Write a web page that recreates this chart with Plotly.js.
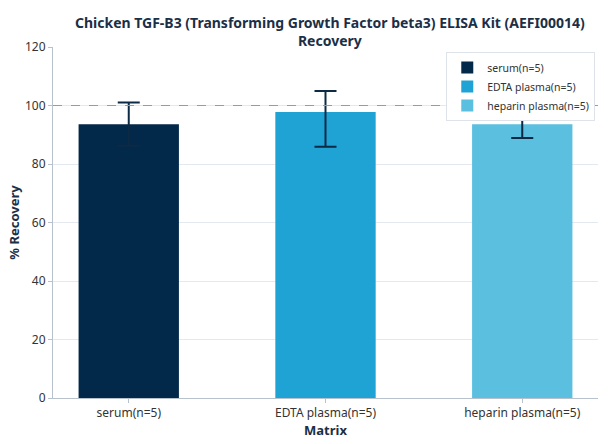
<!DOCTYPE html>
<html>
<head>
<meta charset="utf-8">
<script src="https://cdn.plot.ly/plotly-3.0.1.min.js"></script>
<style>html,body{margin:0;padding:0;background:#fff;}#chart{width:608px;height:444px;}</style>
</head>
<body>
<div id="chart"></div>
<script>
const categories = ["serum(n=5)", "EDTA plasma(n=5)", "heparin plasma(n=5)"];
const recovery = [93.6, 97.8, 93.6];
const errUp = [7.4, 7.2, 9.0];
const errDown = [7.4, 11.9, 4.7];
const colors = ["#03294a", "#1fa3d4", "#5bbfe0"];

const traces = categories.map((c, i) => ({
  type: "bar",
  name: c,
  x: [c],
  y: [recovery[i]],
  width: 0.51,
  marker: {color: colors[i]},
  error_y: {type: "data", symmetric: false, array: [errUp[i]], arrayminus: [errDown[i]],
            color: "#0d2a45", thickness: 2, width: 11, visible: true},
  hoverinfo: "none"
}));

const layout = {
  width: 608, height: 444,
  margin: {l: 53, r: 10, t: 47, b: 46},
  paper_bgcolor: "#fff", plot_bgcolor: "#fff",
  font: {family: "Noto Sans, Open Sans, sans-serif", color: "#2b3a4a", size: 12},
  title: {text: "<b>Chicken TGF-B3 (Transforming Growth Factor beta3) ELISA Kit (AEFI00014)<br>Recovery</b>",
          xref: "paper", x: 0.508, xanchor: "center", yref: "container", y: 0.938, yanchor: "middle",
          font: {size: 14, color: "#1b2f47", family: "Noto Sans, sans-serif"}},
  barmode: "overlay",
  showlegend: true,
  legend: {x: 0.995, xanchor: "right", y: 0.986, yanchor: "top",
           bgcolor: "#fff", bordercolor: "#dde3e8", borderwidth: 1,
           font: {size: 10.5, color: "#333"}, tracegroupgap: 0},
  xaxis: {type: "category", categoryorder: "array", categoryarray: categories,
          range: [-0.385, 2.385], showgrid: false, zeroline: false,
          showline: true, linecolor: "#b8c2cc", linewidth: 1,
          ticks: "outside", ticklen: 4, tickcolor: "#b8c2cc",
          tickfont: {size: 12, color: "#333"},
          title: {text: "<b>Matrix</b>", font: {size: 13, color: "#1b2f47"}, standoff: 2}},
  yaxis: {range: [0, 120], dtick: 20, showgrid: true, gridcolor: "#e3e9ee", gridwidth: 1,
          zeroline: false, showline: true, linecolor: "#b8c2cc", linewidth: 1,
          ticks: "outside", ticklen: 4, tickcolor: "#b8c2cc",
          tickfont: {size: 12, color: "#333"},
          title: {text: "<b>% Recovery</b>", font: {size: 13, color: "#1b2f47"}, standoff: 2}},
  shapes: [{type: "line", xref: "paper", x0: 0, x1: 1, yref: "y", y0: 100, y1: 100,
            line: {color: "#4fb8cf", width: 1, dash: "dash"}}]
};

Plotly.newPlot("chart", traces, layout, {displayModeBar: false, staticPlot: true});
</script>
</body>
</html>
